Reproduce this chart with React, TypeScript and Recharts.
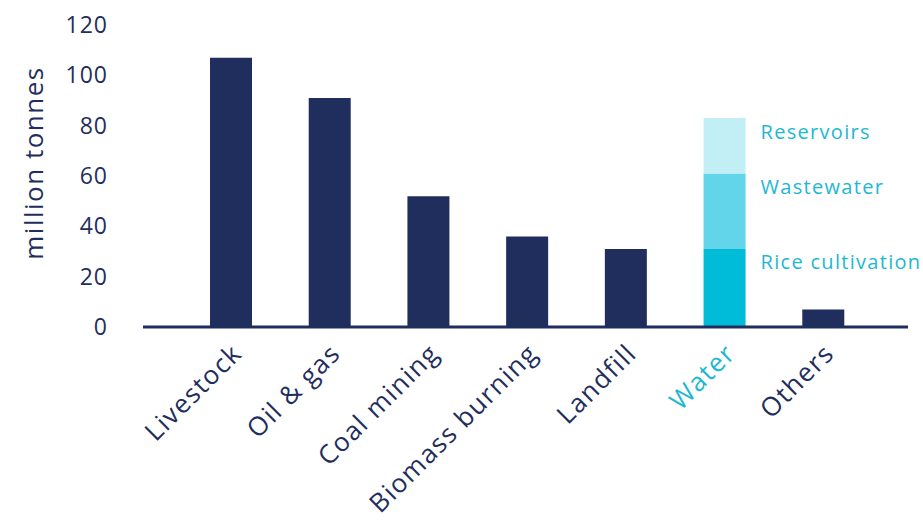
import React from 'react';
import { BarChart, Bar, XAxis, YAxis, LabelList } from 'recharts';

const categories = ['Livestock', 'Oil & gas', 'Coal mining', 'Biomass burning', 'Landfill', 'Water', 'Others'];
const sourceValues = [107, 91, 52, 36, 31, 0, 7];
const riceValues = [0, 0, 0, 0, 0, 31, 0];
const wastewaterValues = [0, 0, 0, 0, 0, 30, 0];
const reservoirValues = [0, 0, 0, 0, 0, 22, 0];
const yTicks = [0, 20, 40, 60, 80, 100, 120];
const segmentNames = { rice: 'Rice cultivation', wastewater: 'Wastewater', reservoirs: 'Reservoirs' };

const NAVY = '#1f2e5d';
const CYAN = '#00bcd9';
const CYAN_MID = '#62d5ea';
const CYAN_LIGHT = '#c2eef6';
const LABEL_CYAN = '#1db8d2';
const FONT = '"Open Sans", "Noto Sans", sans-serif';

const data = categories.map((c, i) => ({
  name: c,
  source: sourceValues[i],
  rice: riceValues[i],
  wastewater: wastewaterValues[i],
  reservoirs: reservoirValues[i],
}));

const XTick = (props: any) => {
  const { x, y, payload } = props;
  const ax = x + 12;
  const ay = y + 28;
  const isWater = payload.value === 'Water';
  return (
    <text
      x={ax}
      y={ay}
      textAnchor="end"
      transform={`rotate(-45, ${ax}, ${ay})`}
      fill={isWater ? LABEL_CYAN : NAVY}
      fontFamily={FONT}
      fontSize={26}
      fontWeight={500}
      letterSpacing={1.4}
    >
      {payload.value}
    </text>
  );
};

const makeSegLabel = (text: string) => (props: any) => {
  const { x, y, width, value } = props;
  if (!value) return null;
  return (
    <text
      x={x + width + 15}
      y={y + 13}
      dominantBaseline="central"
      fill={LABEL_CYAN}
      fontFamily={FONT}
      fontSize={20}
      fontWeight={500}
      letterSpacing={1.3}
    >
      {text}
    </text>
  );
};

const YLabel = (props: any) => {
  const { viewBox } = props;
  const cx = viewBox.x + 33;
  const cy = viewBox.y + viewBox.height / 2 - 13;
  return (
    <text
      x={cx}
      y={cy}
      textAnchor="middle"
      dominantBaseline="central"
      transform={`rotate(-90, ${cx}, ${cy})`}
      fill={NAVY}
      fontFamily={FONT}
      fontSize={26}
      fontWeight={500}
      letterSpacing={1.5}
    >
      million tonnes
    </text>
  );
};

export default function App() {
  return (
    <div style={{ position: 'absolute', left: 0, top: 0, width: 923, height: 528, background: '#fff' }}>
      <BarChart
        width={923}
        height={528}
        data={data}
        margin={{ top: 25, right: 15, bottom: 141, left: 0 }}
        barSize={42}
      >
        <XAxis
          dataKey="name"
          interval={0}
          height={60}
          padding={{ left: 39, right: 35 }}
          axisLine={{ stroke: NAVY, strokeWidth: 3 }}
          tickLine={false}
          tickSize={0}
          tickMargin={0}
          tick={<XTick />}
        />
        <YAxis
          width={143}
          domain={[0, 120]}
          ticks={yTicks}
          interval={0}
          axisLine={false}
          tickLine={false}
          tickSize={0}
          tickMargin={35}
          tick={{ fill: NAVY, fontFamily: FONT, fontSize: 23, fontWeight: 500, letterSpacing: 1 }}
          label={<YLabel />}
        />
        <Bar dataKey="source" stackId="a" fill={NAVY} isAnimationActive={false} />
        <Bar dataKey="rice" stackId="a" fill={CYAN} isAnimationActive={false}>
          <LabelList dataKey="rice" content={makeSegLabel(segmentNames.rice)} />
        </Bar>
        <Bar dataKey="wastewater" stackId="a" fill={CYAN_MID} isAnimationActive={false}>
          <LabelList dataKey="wastewater" content={makeSegLabel(segmentNames.wastewater)} />
        </Bar>
        <Bar dataKey="reservoirs" stackId="a" fill={CYAN_LIGHT} isAnimationActive={false}>
          <LabelList dataKey="reservoirs" content={makeSegLabel(segmentNames.reservoirs)} />
        </Bar>
      </BarChart>
    </div>
  );
}
